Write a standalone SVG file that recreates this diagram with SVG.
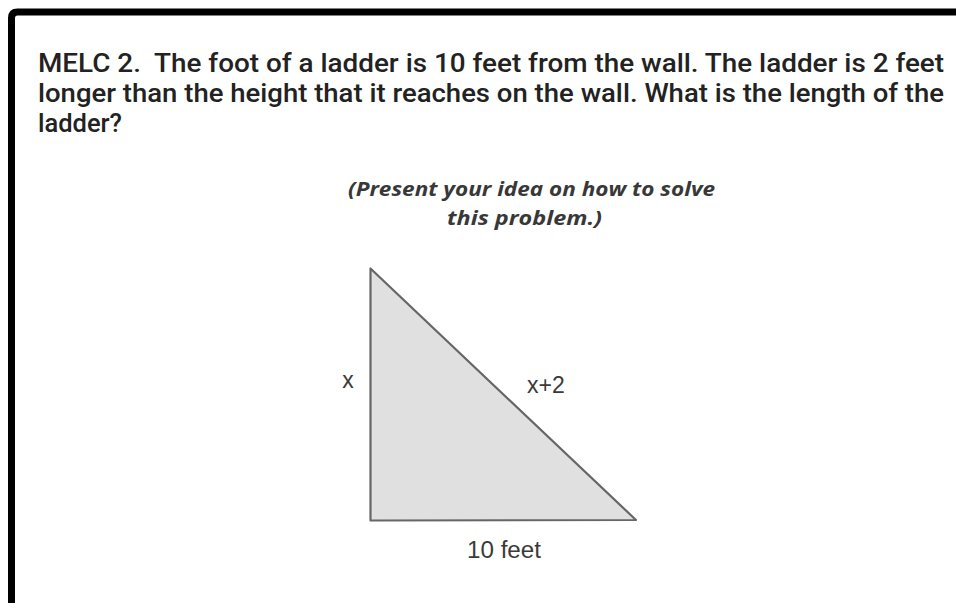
<svg xmlns="http://www.w3.org/2000/svg" width="956" height="603" viewBox="0 0 956 603">
<style>
.q{font-family:Roboto,"Liberation Sans",sans-serif;font-size:25px;font-weight:500;fill:#222}
.s{font-family:"Open Sans","DejaVu Sans",sans-serif;font-size:19px;font-style:italic;font-weight:bold;fill:#383838}
.l{font-family:"Liberation Sans",Arial,sans-serif;font-size:23px;fill:#3a3a3a}
</style>
<rect width="956" height="603" fill="#fff"/>
<path d="M11.5,603 V18 Q11.5,12 17.5,12 H956" fill="none" stroke="#000" stroke-width="7"/>
<g id="question">
<text class="q" x="38" y="72" textLength="906" lengthAdjust="spacingAndGlyphs" xml:space="preserve">MELC 2.  The foot of a ladder is 10 feet from the wall. The ladder is 2 feet</text>
<text class="q" x="38" y="102" textLength="906" lengthAdjust="spacingAndGlyphs">longer than the height that it reaches on the wall. What is the length of the</text>
<text class="q" x="38" y="132" textLength="84" lengthAdjust="spacingAndGlyphs">ladder?</text>
</g>
<g id="instruction">
<text class="s" x="348" y="196" textLength="367" lengthAdjust="spacingAndGlyphs">(Present your idea on how to solve</text>
<text class="s" x="447" y="225" textLength="155" lengthAdjust="spacingAndGlyphs">this problem.)</text>
</g>
<g id="triangle">
<polygon points="370.5,268.5 370.5,520.5 636,520" fill="#e0e0e0" stroke="#666" stroke-width="2.2" stroke-linejoin="round"/>
</g>
<g id="labels">
<text class="l" x="348" y="388" text-anchor="middle">x</text>
<text class="l" x="527" y="393">x+2</text>
<text class="l" x="467" y="558" textLength="74" lengthAdjust="spacingAndGlyphs">10 feet</text>
</g>
</svg>
